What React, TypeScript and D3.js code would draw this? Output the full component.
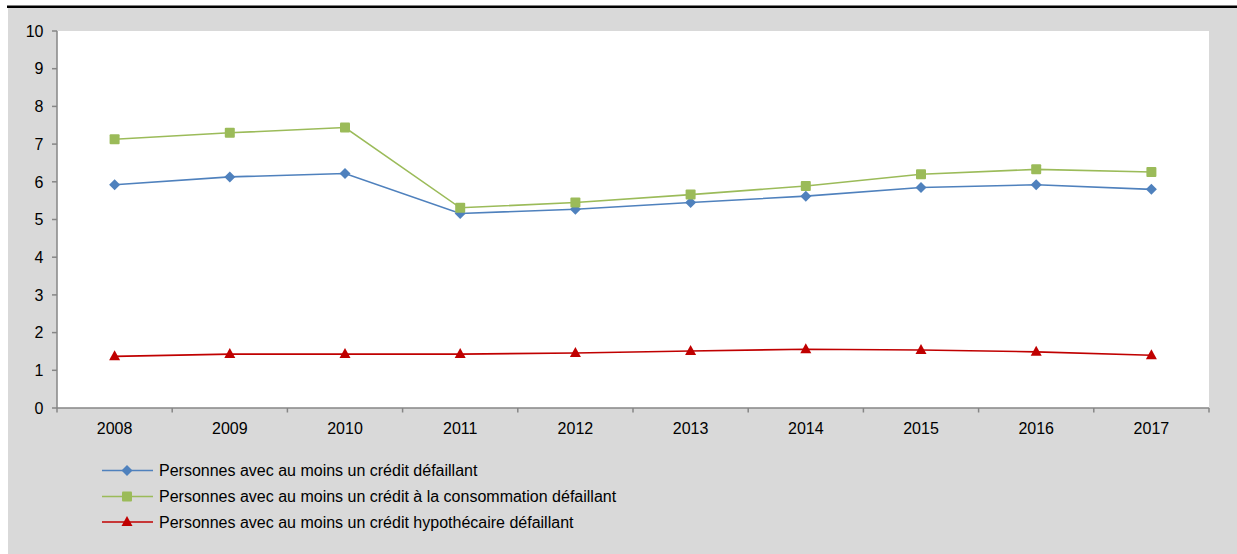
import React from "react";
import * as d3 from "d3";

const years = ["2008", "2009", "2010", "2011", "2012", "2013", "2014", "2015", "2016", "2017"];
const creditDefaillant = [5.92, 6.13, 6.22, 5.16, 5.27, 5.45, 5.62, 5.85, 5.92, 5.80];
const consoDefaillant = [7.13, 7.30, 7.44, 5.31, 5.45, 5.66, 5.89, 6.20, 6.33, 6.26];
const hypoDefaillant = [1.37, 1.43, 1.43, 1.43, 1.46, 1.51, 1.56, 1.54, 1.49, 1.40];
const yTicks = [0, 1, 2, 3, 4, 5, 6, 7, 8, 9, 10];

const seriesNames = [
  "Personnes avec au moins un crédit défaillant",
  "Personnes avec au moins un crédit à la consommation défaillant",
  "Personnes avec au moins un crédit hypothécaire défaillant",
];

const W = 1237;
const H = 554;
const plot = { left: 57, right: 1209, top: 31, bottom: 408 };
const FONT = "'Liberation Sans', Arial, sans-serif";
const FONT_SIZE = 16;
const axisColor = "#868686";

type Shape = "diamond" | "square" | "triangle";

function Marker({ shape, x, y, color }: { shape: Shape; x: number; y: number; color: string }) {
  if (shape === "diamond") {
    const r = 5.5;
    return <path d={`M${x},${y - r}L${x + r},${y}L${x},${y + r}L${x - r},${y}Z`} fill={color} />;
  }
  if (shape === "square") {
    const s = 10;
    return <rect x={x - s / 2} y={y - s / 2} width={s} height={s} rx={1} fill={color} />;
  }
  const hw = 5.5;
  return <path d={`M${x},${y - 6}L${x + hw},${y + 4}L${x - hw},${y + 4}Z`} fill={color} />;
}

export default function App() {
  const x = d3.scaleBand<string>().domain(years).range([plot.left, plot.right]);
  const y = d3.scaleLinear().domain([0, 10]).range([plot.bottom, plot.top]);
  const cx = (yr: string) => (x(yr) as number) + x.bandwidth() / 2;

  const series: { values: number[]; color: string; shape: Shape; name: string }[] = [
    { values: creditDefaillant, color: "#4f81bd", shape: "diamond", name: seriesNames[0] },
    { values: consoDefaillant, color: "#9bbb59", shape: "square", name: seriesNames[1] },
    { values: hypoDefaillant, color: "#c00000", shape: "triangle", name: seriesNames[2] },
  ];

  const line = d3
    .line<number>()
    .x((_, i) => cx(years[i]))
    .y((v) => y(v));

  const boundaries = [...years.map((yr) => x(yr) as number), plot.right];
  const legendY = [470.5, 496.5, 522];

  return (
    <svg
      width={W}
      height={H}
      style={{ position: "absolute", left: 0, top: 0, fontFamily: FONT }}
    >
      <rect x={0} y={0} width={W} height={H} fill="#ffffff" />
      <rect x={8} y={8} width={W - 8} height={H - 8} fill="#d9d9d9" />
      <rect x={7} y={5.5} width={W - 7} height={2.5} fill="#000000" />
      <rect
        x={plot.left}
        y={plot.top}
        width={plot.right - plot.left}
        height={plot.bottom - plot.top}
        fill="#ffffff"
      />

      {/* y axis */}
      <line x1={plot.left} x2={plot.left} y1={plot.top} y2={plot.bottom} stroke={axisColor} strokeWidth={1.5} />
      {yTicks.map((t) => (
        <g key={t}>
          <line x1={plot.left - 5} x2={plot.left} y1={y(t)} y2={y(t)} stroke={axisColor} strokeWidth={1.5} />
          <text x={43.5} y={y(t) + 5.7} textAnchor="end" fontSize={FONT_SIZE} fill="#000">
            {t}
          </text>
        </g>
      ))}

      {/* x axis */}
      <line x1={plot.left} x2={plot.right} y1={plot.bottom} y2={plot.bottom} stroke={axisColor} strokeWidth={1.5} />
      {boundaries.map((b, i) => (
        <line key={i} x1={b} x2={b} y1={plot.bottom} y2={plot.bottom + 4.5} stroke={axisColor} strokeWidth={1.5} />
      ))}
      {years.map((yr) => (
        <text key={yr} x={cx(yr)} y={433.5} textAnchor="middle" fontSize={FONT_SIZE} fill="#000">
          {yr}
        </text>
      ))}

      {/* series */}
      {series.map((s) => (
        <g key={s.name}>
          <path d={line(s.values) as string} fill="none" stroke={s.color} strokeWidth={1.6} />
          {s.values.map((v, i) => (
            <Marker key={i} shape={s.shape} x={cx(years[i])} y={y(v)} color={s.color} />
          ))}
        </g>
      ))}

      {/* legend */}
      {series.map((s, i) => (
        <g key={s.name}>
          <line x1={102} x2={153} y1={legendY[i]} y2={legendY[i]} stroke={s.color} strokeWidth={1.6} />
          <Marker shape={s.shape} x={127} y={legendY[i]} color={s.color} />
          <text x={159} y={legendY[i] + 5.7} fontSize={FONT_SIZE} fill="#000">
            {s.name}
          </text>
        </g>
      ))}
    </svg>
  );
}
